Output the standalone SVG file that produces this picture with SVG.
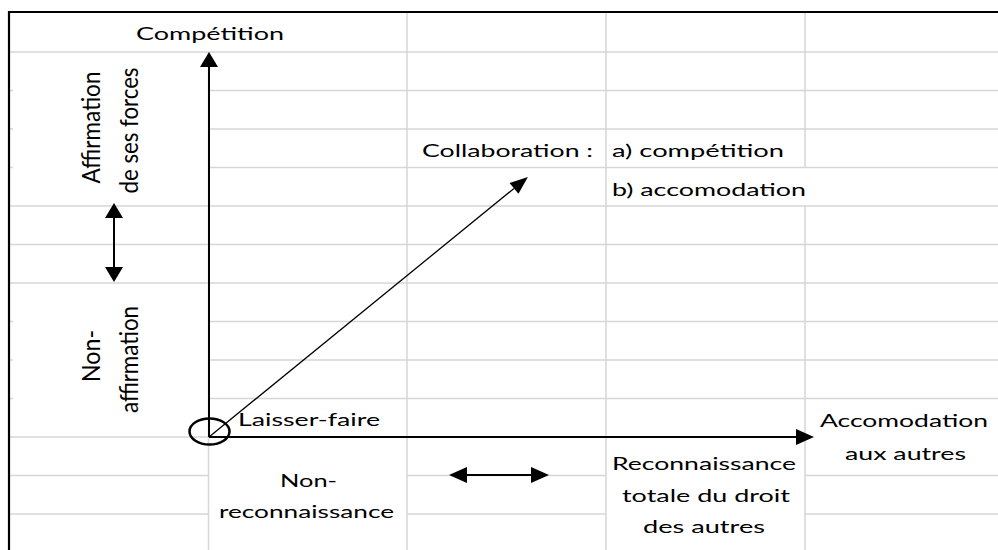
<svg xmlns="http://www.w3.org/2000/svg" width="998" height="550" viewBox="0 0 998 550">
  <style>
    .grid { stroke: #d6d6d6; stroke-width: 1.5; fill: none; }
    .frame { stroke: #000; stroke-width: 2.2; fill: none; }
    .axis { stroke: #000; stroke-width: 2; fill: none; }
    .thin { stroke: #000; stroke-width: 1.3; fill: none; }
    .lbl { font-family: Lato, "Open Sans", "Liberation Sans", sans-serif; font-size: 18px; fill: #000; }
  </style>
  <defs>
    <!-- arrowheads start at the line end and point forward -->
    <marker id="ah-h" markerUnits="userSpaceOnUse" markerWidth="18" markerHeight="16" refX="0" refY="8" orient="auto-start-reverse" overflow="visible">
      <path d="M0,0 L18,8 L0,16 Z" fill="#000"/>
    </marker>
    <marker id="ah-v" markerUnits="userSpaceOnUse" markerWidth="15" markerHeight="18" refX="0" refY="9" orient="auto-start-reverse" overflow="visible">
      <path d="M0,0 L15,9 L0,18 Z" fill="#000"/>
    </marker>
    <marker id="ah-d" markerUnits="userSpaceOnUse" markerWidth="18" markerHeight="14" refX="0" refY="7" orient="auto" overflow="visible">
      <path d="M0,0 L18,7 L0,14 Z" fill="#000"/>
    </marker>
  </defs>

  <rect width="998" height="550" fill="#fff"/>

  <!-- spreadsheet grid -->
  <g id="grid">
    <path class="grid" d="
      M9,52 H998
      M208.5,90.5 H998 M9,90.5 H13
      M208.5,129 H998 M9,129 H13
      M208.5,167.5 H998 M9,167.5 H13
      M9,206 H998
      M9,244.5 H998
      M9,283 H998
      M208.5,321.5 H998 M9,321.5 H13
      M208.5,360 H998 M9,360 H13
      M208.5,398.5 H998 M9,398.5 H13
      M9,437 H805
      M9,475.5 H208.5 M407,475.5 H606 M805,475.5 H998
      M9,514 H208.5 M407,514 H606 M805,514 H998
      M208.5,52 V550
      M407,13 V550
      M606,13 V550
      M805,13 V167.5 M805,206 V550"/>
    <path class="frame" d="M9,550 V12 H998"/>
  </g>

  <!-- arrows and origin mark -->
  <g id="connectors">
    <line class="axis" x1="209" y1="437" x2="209" y2="67" marker-end="url(#ah-v)"/>
    <line class="axis" x1="209" y1="437" x2="796" y2="437" marker-end="url(#ah-h)"/>
    <line class="thin" x1="209" y1="437" x2="514" y2="188.4" marker-end="url(#ah-d)"/>
    <line class="axis" x1="114" y1="218" x2="114" y2="267" marker-start="url(#ah-v)" marker-end="url(#ah-v)"/>
    <line class="axis" x1="467" y1="475" x2="531" y2="475" marker-start="url(#ah-h)" marker-end="url(#ah-h)"/>
    <ellipse cx="209.5" cy="431.5" rx="20" ry="13" fill="none" stroke="#000" stroke-width="2.5"/>
  </g>

  <g id="competition">
    <text class="lbl" x="136" y="40" textLength="148" lengthAdjust="spacingAndGlyphs">Compétition</text>
  </g>

  <g id="affirmation">
    <text class="lbl" transform="translate(100,127.5) scale(1.4,1) rotate(-90)" x="-56" y="0" textLength="112" lengthAdjust="spacingAndGlyphs">Affirmation</text>
    <text class="lbl" transform="translate(138,130.5) scale(1.4,1) rotate(-90)" x="-63" y="0" textLength="126" lengthAdjust="spacingAndGlyphs">de ses forces</text>
  </g>

  <g id="non-affirmation">
    <text class="lbl" transform="translate(100,356) scale(1.4,1) rotate(-90)" x="-26" y="0" textLength="52" lengthAdjust="spacingAndGlyphs">Non-</text>
    <text class="lbl" transform="translate(138,360) scale(1.4,1) rotate(-90)" x="-53" y="0" textLength="107" lengthAdjust="spacingAndGlyphs">affirmation</text>
  </g>

  <g id="collaboration">
    <text class="lbl" x="422" y="157" textLength="171" lengthAdjust="spacingAndGlyphs">Collaboration :</text>
    <text class="lbl" x="612" y="157" textLength="172" lengthAdjust="spacingAndGlyphs">a) compétition</text>
    <text class="lbl" x="612" y="196" textLength="194" lengthAdjust="spacingAndGlyphs">b) accomodation</text>
  </g>

  <g id="laisser-faire">
    <text class="lbl" x="238" y="426" textLength="142" lengthAdjust="spacingAndGlyphs">Laisser-faire</text>
  </g>

  <g id="non-reconnaissance">
    <text class="lbl" x="280" y="487" textLength="57" lengthAdjust="spacingAndGlyphs">Non-</text>
    <text class="lbl" x="219" y="518" textLength="175" lengthAdjust="spacingAndGlyphs">reconnaissance</text>
  </g>

  <g id="reconnaissance">
    <text class="lbl" x="612" y="470" textLength="184" lengthAdjust="spacingAndGlyphs">Reconnaissance</text>
    <text class="lbl" x="622" y="502" textLength="168" lengthAdjust="spacingAndGlyphs">totale du droit</text>
    <text class="lbl" x="643" y="533" textLength="122" lengthAdjust="spacingAndGlyphs">des autres</text>
  </g>

  <g id="accomodation">
    <text class="lbl" x="820" y="427" textLength="168" lengthAdjust="spacingAndGlyphs">Accomodation</text>
    <text class="lbl" x="845" y="460" textLength="121" lengthAdjust="spacingAndGlyphs">aux autres</text>
  </g>
</svg>
